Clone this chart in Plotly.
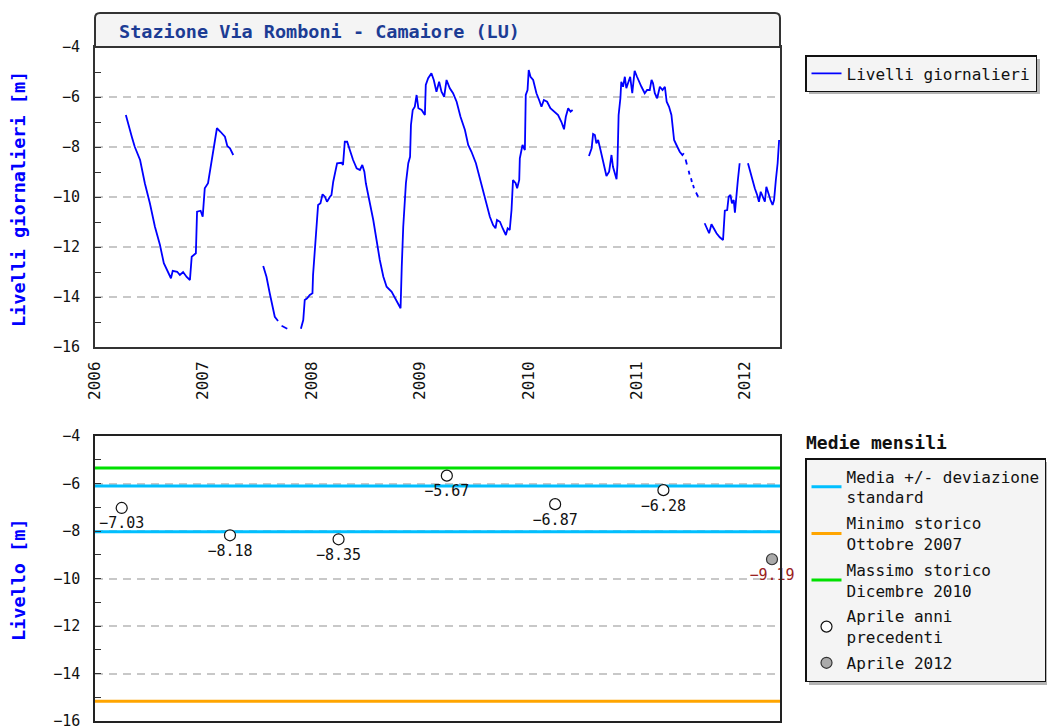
import plotly.graph_objects as go

# ---------------- data ----------------
dates_a = ["2006-04-15","2006-04-23","2006-05-05","2006-05-15","2006-06-02","2006-06-18","2006-07-05","2006-07-22","2006-08-08","2006-08-21","2006-09-05","2006-09-14","2006-09-20","2006-10-05","2006-10-14","2006-10-25","2006-11-06","2006-11-17","2006-11-23","2006-12-07","2006-12-11","2006-12-23","2006-12-30","2007-01-06","2007-01-17","2007-01-25","2007-02-03","2007-02-12","2007-02-16","2007-02-28","2007-03-09","2007-03-15","2007-03-23","2007-04-01","2007-04-12"]
vals_a = [-6.72,-7.12,-7.59,-7.99,-8.52,-9.45,-10.25,-11.19,-11.92,-12.65,-13.05,-13.25,-12.95,-12.99,-13.12,-13.0,-13.2,-13.32,-12.39,-12.25,-10.59,-10.55,-10.79,-9.65,-9.45,-8.85,-8.32,-7.52,-7.25,-7.39,-7.52,-7.59,-7.96,-8.05,-8.32]

dates_b = ["2007-07-22","2007-08-02","2007-08-13","2007-08-22","2007-08-30","2007-09-10"]
vals_b = [-12.76,-13.19,-13.85,-14.39,-14.79,-14.96]

dates_c = ["2007-09-22","2007-09-30","2007-10-11"]
vals_c = [-15.15,-15.2,-15.27]

dates_d = ["2007-11-26","2007-12-04","2007-12-09","2007-12-17","2007-12-26","2008-01-04","2008-01-06","2008-01-12","2008-01-18","2008-01-23",
           "2008-01-31","2008-02-07","2008-02-15","2008-02-22","2008-03-03","2008-03-08","2008-03-14","2008-03-19","2008-03-27","2008-04-11",
           "2008-04-16","2008-04-22","2008-04-30","2008-05-09","2008-05-20","2008-06-01","2008-06-12","2008-06-20","2008-06-27","2008-07-02",
           "2008-07-13","2008-07-27","2008-08-07","2008-08-18","2008-08-30","2008-09-10","2008-09-27","2008-10-08","2008-10-19","2008-10-27",
           "2008-10-31","2008-11-05","2008-11-14","2008-11-22","2008-11-28","2008-12-01","2008-12-07","2008-12-14","2008-12-20","2008-12-26",
           "2009-01-06","2009-01-17","2009-01-20","2009-01-28","2009-02-08","2009-02-16","2009-02-25","2009-03-06","2009-03-14","2009-03-23",
           "2009-03-31","2009-04-11","2009-04-22","2009-05-04","2009-05-17","2009-06-01","2009-06-12","2009-06-23","2009-07-08","2009-07-21",
           "2009-08-04","2009-08-15","2009-08-24","2009-09-04","2009-09-12","2009-09-17","2009-09-27","2009-10-06","2009-10-17","2009-10-23",
           "2009-10-30","2009-11-05","2009-11-10","2009-11-19","2009-11-24","2009-12-01","2009-12-03","2009-12-12","2009-12-20","2009-12-23",
           "2009-12-29","2010-01-02","2010-01-08","2010-01-17","2010-01-28","2010-02-06","2010-02-14","2010-02-22","2010-03-05","2010-03-16",
           "2010-03-31","2010-04-11","2010-04-22","2010-05-01","2010-05-07","2010-05-15","2010-05-23","2010-05-30"]
vals_d = [-15.27,-14.92,-14.12,-14.05,-13.92,-13.85,-13.12,-12.19,-10.99,-10.32,
          -10.25,-9.89,-9.99,-10.19,-9.99,-9.92,-9.39,-9.12,-8.65,-8.63,
          -8.72,-7.79,-7.79,-8.12,-8.52,-8.85,-8.92,-8.72,-8.99,-9.45,
          -10.05,-10.92,-11.72,-12.52,-13.19,-13.59,-13.79,-14.05,-14.25,-14.45,
          -12.79,-11.19,-9.45,-8.65,-8.39,-7.12,-6.52,-6.39,-5.92,-6.45,
          -6.52,-6.72,-5.52,-5.25,-5.05,-5.32,-5.79,-5.39,-5.79,-5.99,
          -5.32,-5.65,-5.85,-6.19,-6.79,-7.32,-7.92,-8.19,-8.65,-9.25,
          -9.85,-10.39,-10.79,-11.12,-11.25,-10.92,-10.99,-11.25,-11.52,-11.25,
          -11.32,-10.52,-9.32,-9.45,-9.65,-9.32,-8.45,-7.92,-8.12,-5.92,
          -5.72,-4.92,-5.19,-5.32,-5.85,-6.12,-6.39,-6.12,-6.19,-6.45,
          -6.59,-6.72,-6.99,-7.29,-6.79,-6.45,-6.59,-6.52]

dates_e = ["2010-07-24","2010-08-02","2010-08-07","2010-08-13","2010-08-18","2010-08-24","2010-09-01","2010-09-08","2010-09-15","2010-09-21",
           "2010-09-30","2010-10-08","2010-10-13","2010-10-19","2010-10-25","2010-10-28","2010-11-01","2010-11-07","2010-11-10","2010-11-16",
           "2010-11-22","2010-11-27","2010-12-06","2010-12-10","2010-12-17","2010-12-25","2011-01-02","2011-01-09","2011-01-17","2011-01-28",
           "2011-02-05","2011-02-14","2011-02-20","2011-02-25","2011-03-03","2011-03-11","2011-03-20","2011-03-29","2011-04-06","2011-04-12",
           "2011-04-20","2011-04-28","2011-05-03","2011-05-07","2011-05-15","2011-05-26","2011-06-04","2011-06-09"]
vals_e = [-8.36,-8.05,-7.48,-7.52,-7.85,-7.72,-8.12,-8.52,-8.79,-9.16,
          -8.99,-8.32,-8.79,-9.05,-9.29,-8.72,-6.72,-6.05,-5.39,-5.59,
          -5.19,-5.65,-5.32,-5.19,-5.85,-4.95,-5.19,-5.39,-5.59,-5.85,
          -5.72,-5.72,-5.32,-5.45,-5.85,-6.05,-5.59,-5.72,-5.59,-6.19,
          -6.39,-6.72,-7.32,-7.72,-7.92,-8.19,-8.32,-8.25]

# sparse readings, summer 2011 (None = missing days)
dates_f = ["2011-06-15","2011-06-19",None,"2011-06-25","2011-06-28",None,"2011-07-03","2011-07-06",None,"2011-07-10","2011-07-13",None,"2011-07-20","2011-07-27"]
vals_f = [-8.5,-8.7,None,-8.95,-9.1,None,-9.25,-9.4,None,-9.52,-9.65,None,-9.82,-9.99]

dates_g = ["2011-08-18","2011-08-26","2011-09-02","2011-09-10","2011-09-18","2011-09-27","2011-10-08","2011-10-19","2011-10-25","2011-11-02",
           "2011-11-07","2011-11-13","2011-11-18","2011-11-24","2011-11-28","2011-12-03","2011-12-08","2011-12-14"]
vals_g = [-11.05,-11.25,-11.45,-11.09,-11.25,-11.45,-11.61,-11.72,-10.55,-10.52,
          -9.99,-9.92,-10.25,-10.12,-10.63,-9.85,-9.32,-8.65]

dates_h = ["2012-01-11","2012-01-17","2012-01-26","2012-02-03","2012-02-11","2012-02-17","2012-02-23","2012-03-02","2012-03-08","2012-03-13",
           "2012-03-19","2012-03-27","2012-04-03","2012-04-08","2012-04-14","2012-04-20","2012-04-25"]
vals_h = [-8.65,-8.92,-9.32,-9.65,-9.92,-10.19,-9.79,-9.99,-10.19,-9.59,
          -9.85,-10.12,-10.32,-10.12,-9.32,-8.65,-7.72]

# monthly means (April)
april_dates = ["2006-04-01","2007-04-01","2008-04-01","2009-04-01","2010-04-01","2011-04-01"]
april_values = [-7.03,-8.18,-8.35,-5.67,-6.87,-6.28]
april_2012_date = ["2012-04-01"]
april_2012_value = [-9.19]

mean_plus_std = -6.10
mean_minus_std = -8.03
min_storico = -15.17
max_storico = -5.35

x_start, x_end = "2006-01-01", "2012-04-28"
y_ticks = [-4, -6, -8, -10, -12, -14, -16]
year_ticks = ["2006-01-01","2007-01-01","2008-01-01","2009-01-01","2010-01-01","2011-01-01","2012-01-01"]
year_labels = ["2006","2007","2008","2009","2010","2011","2012"]

# ---------------- figure ----------------
OFF = 8                      # page body margin in the browser
W, H = 1061 - OFF, 727 - OFF
def X(p): return (p - OFF) / W          # page pixel -> paper fraction
def Y(p): return 1 - (p - OFF) / H

segments = [(dates_a, vals_a), (dates_b, vals_b), (dates_c, vals_c), (dates_d, vals_d),
            (dates_e, vals_e), (dates_f, vals_f), (dates_g, vals_g), (dates_h, vals_h)]
xs, ys = [], []
for i, (d, v) in enumerate(segments):
    if i:
        xs.append(None); ys.append(None)
    xs += d; ys += v

def fmt(v):
    return f"{v:.2f}".replace("-", "\u2212")

MONO = "DejaVu Sans Mono"
fig = go.Figure()

fig.add_trace(go.Scatter(x=xs, y=ys, mode="lines", name="Livelli giornalieri",
                         line=dict(color="#0000ff", width=1.8), connectgaps=False,
                         xaxis="x", yaxis="y", legend="legend"))

fig.add_trace(go.Scatter(x=[x_start, x_end, None, x_start, x_end],
                         y=[mean_plus_std, mean_plus_std, None, mean_minus_std, mean_minus_std],
                         mode="lines", name="Media +/- deviazione<br>standard", legendgroup="g1",
                         line=dict(color="#00bfff", width=3), xaxis="x2", yaxis="y2", legend="legend2"))
fig.add_trace(go.Scatter(x=[x_start, x_end], y=[min_storico, min_storico], mode="lines",
                         name="Minimo storico<br>Ottobre 2007", legendgroup="g2",
                         line=dict(color="#ffa500", width=3),
                         xaxis="x2", yaxis="y2", legend="legend2"))
fig.add_trace(go.Scatter(x=[x_start, x_end], y=[max_storico, max_storico], mode="lines",
                         name="Massimo storico<br>Dicembre 2010", legendgroup="g3",
                         line=dict(color="#00e000", width=3),
                         xaxis="x2", yaxis="y2", legend="legend2"))
fig.add_trace(go.Scatter(x=april_dates, y=april_values, mode="markers", name="Aprile anni<br>precedenti",
                         legendgroup="g4",
                         marker=dict(size=11, color="white", line=dict(color="#111", width=1.2)),
                         cliponaxis=False, xaxis="x2", yaxis="y2", legend="legend2"))
fig.add_trace(go.Scatter(x=april_2012_date, y=april_2012_value, mode="markers", name="Aprile 2012",
                         legendgroup="g5",
                         marker=dict(size=11, color="#aaaaaa", line=dict(color="#333", width=1.2)),
                         cliponaxis=False, xaxis="x2", yaxis="y2", legend="legend2"))
fig.add_trace(go.Scatter(x=april_dates, y=april_values, mode="markers+text",
                         text=[fmt(v) for v in april_values],
                         marker=dict(size=13, color="rgba(0,0,0,0)"),
                         textposition="bottom center", textfont=dict(family=MONO, size=15, color="#111"),
                         cliponaxis=False, showlegend=False, hoverinfo="skip", xaxis="x2", yaxis="y2"))
fig.add_trace(go.Scatter(x=april_2012_date, y=april_2012_value, mode="markers+text",
                         text=[fmt(v) for v in april_2012_value],
                         marker=dict(size=13, color="rgba(0,0,0,0)"),
                         textposition="bottom center", textfont=dict(family=MONO, size=15, color="#992222"),
                         cliponaxis=False, showlegend=False, hoverinfo="skip", xaxis="x2", yaxis="y2"))

yaxis_common = dict(range=[-16, -4], tickvals=y_ticks, ticks="inside", ticklen=6, tickcolor="#333",
                    minor=dict(ticks="inside", ticklen=6, tickcolor="#333", dtick=1, tick0=-5, showgrid=False),
                    showgrid=True, gridcolor="#c8c8c8", griddash="8px,6px", gridwidth=1.5,
                    zeroline=False, showline=True, mirror=True, automargin=False,
                    ticklabeloverflow="allow",
                    tickfont=dict(family=MONO, size=15, color="#111"), ticklabelstandoff=10)

fig.update_layout(
    width=W, height=H, margin=dict(l=0, r=0, t=0, b=0, autoexpand=False),
    paper_bgcolor="white", plot_bgcolor="white", showlegend=True,
    xaxis=dict(domain=[X(95), X(780)], anchor="y", type="date", range=[x_start, x_end],
               tickvals=year_ticks, ticktext=year_labels, tickangle=-90, ticks="", automargin=False,
               showgrid=False, zeroline=False, showline=True, mirror=True, linecolor="#333", linewidth=2,
               tickfont=dict(family=MONO, size=16, color="#111"), ticklabelstandoff=6),
    yaxis=dict(domain=[Y(347), Y(47)], anchor="x", linecolor="#333", linewidth=2, **yaxis_common),
    xaxis2=dict(domain=[X(95), X(780)], anchor="y2", type="date", range=[x_start, x_end],
                showticklabels=False, ticks="", showgrid=False, zeroline=False, automargin=False,
                showline=True, mirror=True, linecolor="#222", linewidth=1.5),
    yaxis2=dict(domain=[Y(721), Y(436)], anchor="x2", linecolor="#222", linewidth=1.5, **yaxis_common),
    legend=dict(x=X(805), y=Y(55), xanchor="left", yanchor="top", bgcolor="#f4f4f4",
                bordercolor="#111", borderwidth=1.5, font=dict(family=MONO, size=16, color="#111")),
    legend2=dict(x=X(805), y=Y(458), xanchor="left", yanchor="top", bgcolor="#f4f4f4",
                 bordercolor="#111", borderwidth=1.5, font=dict(family=MONO, size=16, color="#111"),
                 traceorder="grouped", tracegroupgap=2),
)

# legend drop shadows
fig.add_shape(type="rect", xref="paper", yref="paper", x0=X(809), x1=X(1040), y0=Y(94), y1=Y(59),
              fillcolor="#b4b4b4", line=dict(width=0), layer="below")
fig.add_shape(type="rect", xref="paper", yref="paper", x0=X(809), x1=X(1047), y0=Y(685), y1=Y(462),
              fillcolor="#b4b4b4", line=dict(width=0), layer="below")

# title bar with rounded top corners
r = 5
path = (f"M {X(95)},{Y(47)} L {X(95)},{Y(13 + r)} Q {X(95)},{Y(13)} {X(95 + r)},{Y(13)} "
        f"L {X(780 - r)},{Y(13)} Q {X(780)},{Y(13)} {X(780)},{Y(13 + r)} L {X(780)},{Y(47)} Z")
fig.add_shape(type="path", path=path, xref="paper", yref="paper",
              fillcolor="#f4f4f4", line=dict(color="#333", width=2), layer="above")

fig.add_annotation(x=X(117), y=Y(31), xref="paper", yref="paper", xanchor="left", yanchor="middle",
                   text="<b>Stazione Via Romboni - Camaiore (LU)</b>", showarrow=False,
                   font=dict(family=MONO, size=18.5, color="#1c3c94"))
fig.add_annotation(x=X(18), y=Y(199), xref="paper", yref="paper", xanchor="center", yanchor="middle",
                   text="<b>Livelli giornalieri [m]</b>", textangle=-90, showarrow=False,
                   font=dict(family=MONO, size=18.5, color="#0000ff"))
fig.add_annotation(x=X(18), y=Y(580), xref="paper", yref="paper", xanchor="center", yanchor="middle",
                   text="<b>Livello [m]</b>", textangle=-90, showarrow=False,
                   font=dict(family=MONO, size=18.5, color="#0000ff"))
fig.add_annotation(x=X(804), y=Y(442), xref="paper", yref="paper", xanchor="left", yanchor="middle",
                   text="<b>Medie mensili</b>", showarrow=False,
                   font=dict(family=MONO, size=18, color="#111"))

fig.write_html("out.html")
